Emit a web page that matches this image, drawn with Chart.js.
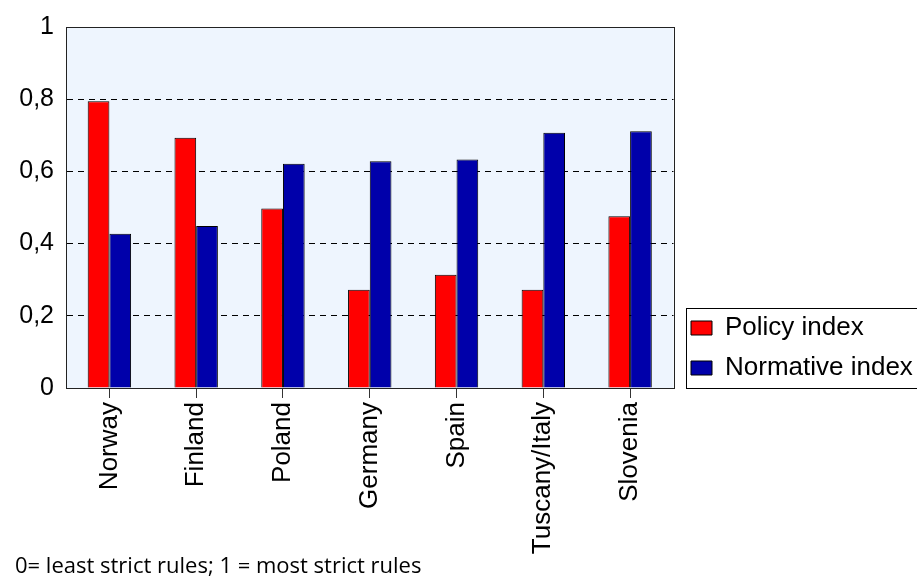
<!DOCTYPE html>
<html>
<head>
<meta charset="utf-8">
<script src="https://cdn.jsdelivr.net/npm/chart.js@4"></script>
<style>
  html, body { margin: 0; padding: 0; background: #fff; }
  #wrap { width: 917px; height: 577px; position: relative; }
</style>
</head>
<body>
<div id="wrap"><canvas id="c" width="917" height="577"></canvas></div>
<script>
const categories = ["Norway", "Finland", "Poland", "Germany", "Spain", "Tuscany/Italy", "Slovenia"];
const seriesNames = ["Policy index", "Normative index"];
const policyIndex = [0.794, 0.693, 0.497, 0.272, 0.314, 0.272, 0.476];
const normativeIndex = [0.427, 0.449, 0.621, 0.628, 0.633, 0.707, 0.711];
const yTickValues = [0, 0.2, 0.4, 0.6, 0.8, 1];
const yTickLabels = ["0", "0,2", "0,4", "0,6", "0,8", "1"];
const footnote = "0= least strict rules; 1 = most strict rules";

const plotBg = {
  id: 'plotBg',
  afterLayout(chart) {
    const lg = chart.legend;
    if (lg) {
      const a = chart.chartArea;
      lg.left = Math.round(a.right) + 3;
      lg.right = chart.width;
      lg.width = lg.right - lg.left;
      lg.top += 7;
      lg.bottom += 7;
      lg.height = lg.bottom - lg.top;
    }
  },
  beforeDraw(chart) {
    const {ctx, chartArea: a} = chart;
    ctx.save();
    ctx.fillStyle = '#EEF5FE';
    ctx.fillRect(a.left, a.top, a.right - a.left, a.bottom - a.top);
    ctx.restore();
  },
  afterDraw(chart) {
    const {ctx, chartArea: a} = chart;
    ctx.save();
    ctx.strokeStyle = '#222';
    ctx.lineWidth = 1;
    ctx.strokeRect(Math.round(a.left) + 0.5, Math.round(a.top) + 0.5,
                   Math.round(a.right - a.left), Math.round(a.bottom - a.top));
    const lg = chart.legend;
    if (lg && lg.columnSizes && lg.columnSizes.length) {
      const left = Math.round(lg.left) + 9;
      const top = Math.round(lg.bottom - lg.columnSizes[0].height) - 7;
      const bottom = Math.round(a.bottom);
      ctx.strokeStyle = '#000';
      ctx.strokeRect(left + 0.5, top + 0.5, chart.width - left + 5, bottom - top);
    }
    ctx.restore();
  }
};

new Chart(document.getElementById('c'), {
  type: 'bar',
  data: {
    labels: categories,
    datasets: [
      {
        label: seriesNames[0],
        data: policyIndex,
        backgroundColor: '#FF0000',
        borderColor: '#000',
        borderWidth: 1,
        categoryPercentage: 0.5,
        barPercentage: 1.0
      },
      {
        label: seriesNames[1],
        data: normativeIndex,
        backgroundColor: '#0000AA',
        borderColor: '#000',
        borderWidth: 1,
        categoryPercentage: 0.5,
        barPercentage: 1.0
      }
    ]
  },
  plugins: [plotBg],
  options: {
    responsive: false,
    animation: false,
    layout: { padding: { left: 15, top: 18, right: 24, bottom: 0 } },
    plugins: {
      tooltip: { enabled: false },
      legend: {
        display: true,
        position: 'right',
        align: 'end',
        fullSize: false,
        labels: {
          boxWidth: 21,
          boxHeight: 14,
          padding: 14,
          color: '#000',
          font: { family: 'Liberation Sans', size: 26 }
        }
      },
      title: {
        display: true,
        position: 'bottom',
        align: 'start',
        text: footnote,
        color: '#000',
        padding: { top: 0, bottom: 0 },
        font: { family: 'Open Sans', size: 22, weight: 'normal', lineHeight: 0.9 }
      }
    },
    scales: {
      x: {
        offset: true,
        grid: {
          display: true,
          drawOnChartArea: false,
          drawTicks: true,
          tickLength: 10,
          offset: false,
          color: '#333'
        },
        border: { display: true, color: '#222' },
        ticks: {
          autoSkip: false,
          minRotation: 90,
          maxRotation: 90,
          padding: 4,
          color: '#000',
          font: { family: 'Liberation Sans', size: 26 }
        },
        afterFit(scale) { scale.height = 577 - 388 - 19.8; }
      },
      y: {
        min: 0,
        max: 1,
        afterBuildTicks(scale) { scale.ticks = yTickValues.map(v => ({ value: v })); },
        grid: {
          drawTicks: false,
          color: ctx => (ctx.tick && (ctx.tick.value === 0 || ctx.tick.value === 1)) ? 'rgba(0,0,0,0)' : '#000',
          lineWidth: 1
        },
        border: { display: true, color: '#222', dash: [6, 5] },
        ticks: {
          padding: 12,
          color: '#000',
          font: { family: 'Liberation Sans', size: 25 },
          callback: (v) => {
            const i = yTickValues.findIndex(t => Math.abs(t - v) < 1e-9);
            return i >= 0 ? yTickLabels[i] : '';
          }
        },
        afterFit(scale) { scale.width = 51; }
      }
    }
  }
});
</script>
</body>
</html>
